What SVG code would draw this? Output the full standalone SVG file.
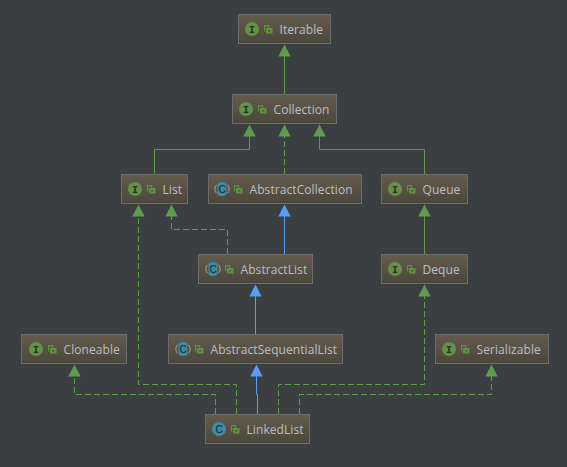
<svg xmlns="http://www.w3.org/2000/svg" width="567" height="467" viewBox="0 0 567 467">
<style>
.box{fill:url(#g);stroke:#6d6d6d;stroke-width:1}
.t{font-family:"Open Sans","Noto Sans","Liberation Sans",sans-serif;font-size:12px;fill:#bbbfc4;letter-spacing:.08px}
.b{font-family:"Liberation Mono",monospace;font-size:10px;font-weight:bold;fill:#26301f;text-anchor:middle}
.c{font-family:"Liberation Sans",sans-serif;font-size:10px;fill:#14303a;stroke:#14303a;stroke-width:.2;text-anchor:middle}
.ic{fill:#629246}
.cc{fill:#3f8ba3}
.par{fill:none;stroke:#8f9294;stroke-width:1.200}
.lock{fill:none;stroke:#5d9140;stroke-width:1.200}
.lb{fill:#5d9140}
.s{fill:none;stroke:#5f9b4c;stroke-width:1}
.d{fill:none;stroke:#5f9b4c;stroke-width:1;stroke-dasharray:6 3}
.bl{fill:none;stroke:#589df6;stroke-width:1}
.ah{fill:#5f9b4c}
.ahb{fill:#589df6}
</style>
<defs>
<linearGradient id="g" x1="0" y1="0" x2="0" y2="1"><stop offset="0" stop-color="#645b4d"/><stop offset="1" stop-color="#4b473b"/></linearGradient>
<g id="lk"><path class="lock" d="M0.600 6.500V0.600H4.600V3"/><rect class="lb" x="2" y="3" width="6.500" height="5.500"/><rect x="4.200" y="5.200" width="2" height="1.200" fill="#4f4a3e"/></g>
<g id="ii"><circle class="ic" cx="0" cy="0" r="7"/></g>
<g id="ac"><path class="cc" d="M-4.500 -5.400A7 7 0 0 1 4.500 -5.400V5.400A7 7 0 0 1 -4.500 5.400Z"/><path class="par" d="M-5.600 -4.200A7 7 0 0 0 -5.600 4.200M5.600 -4.200A7 7 0 0 1 5.600 4.200"/></g>
<polygon id="a" points="0,0 6.200,12 -6.200,12"/>
</defs>
<rect width="567" height="467" fill="#3c3f41"/>
<g id="connectors">
<path class="s" d="M284.500 56V94"/>
<path class="s" d="M154.500 174V149.500H249.500V136"/>
<path class="d" d="M284.500 174V136"/>
<path class="s" d="M424.500 174V149.500H319.500V136"/>
<path class="d" d="M227.500 254V229.500H171.500V216"/>
<path class="bl" d="M284.500 254V216"/>
<path class="s" d="M424.500 254V216"/>
<path class="bl" d="M255.500 334V296"/>
<path class="d" d="M236.500 414V384.500H138.500V216"/>
<path class="d" d="M215.500 414V394.500H74.500V376"/>
<path class="bl" d="M257.500 414V394.500H256.500V376"/>
<path class="d" d="M278.500 414V384.500H424.500V296"/>
<path class="d" d="M299.500 414V394.500H491.500V376"/>
<use href="#a" class="ah" x="284.500" y="44.500"/>
<use href="#a" class="ah" x="249.500" y="124.500"/>
<use href="#a" class="ah" x="284.500" y="124.500"/>
<use href="#a" class="ah" x="319.500" y="124.500"/>
<use href="#a" class="ah" x="138.500" y="204.500"/>
<use href="#a" class="ah" x="171.500" y="204.500"/>
<use href="#a" class="ahb" x="284.500" y="204.500"/>
<use href="#a" class="ah" x="424.500" y="204.500"/>
<use href="#a" class="ahb" x="255.500" y="284.500"/>
<use href="#a" class="ah" x="424.500" y="284.500"/>
<use href="#a" class="ah" x="74.500" y="364.500"/>
<use href="#a" class="ahb" x="256.500" y="364.500"/>
<use href="#a" class="ah" x="491.500" y="364.500"/>
</g>
<g id="Iterable"><rect class="box" x="238.500" y="14.500" width="92" height="29"/><use href="#ii" x="252" y="29"/><text class="b" x="252" y="32.500">I</text><use href="#lk" x="264" y="25"/><text class="t" x="279.500" y="33.500">Iterable</text></g>
<g id="Collection"><rect class="box" x="232.500" y="94.500" width="104" height="29"/><use href="#ii" x="246" y="109"/><text class="b" x="246" y="112.500">I</text><use href="#lk" x="258" y="105"/><text class="t" x="273.500" y="113.500">Collection</text></g>
<g id="List"><rect class="box" x="121.500" y="174.500" width="66" height="29"/><use href="#ii" x="135" y="189"/><text class="b" x="135" y="192.500">I</text><use href="#lk" x="147" y="185"/><text class="t" x="162.500" y="193.500">List</text></g>
<g id="AbstractCollection"><rect class="box" x="208.500" y="174.500" width="153" height="29"/><use href="#ac" x="222" y="189"/><text class="c" x="222" y="192.700">C</text><use href="#lk" x="234" y="185"/><text class="t" x="249.500" y="193.500">AbstractCollection</text></g>
<g id="Queue"><rect class="box" x="381.500" y="174.500" width="86" height="29"/><use href="#ii" x="395" y="189"/><text class="b" x="395" y="192.500">I</text><use href="#lk" x="407" y="185"/><text class="t" x="422.500" y="193.500">Queue</text></g>
<g id="AbstractList"><rect class="box" x="198.500" y="254.500" width="114" height="29"/><use href="#ac" x="213" y="269"/><text class="c" x="213" y="272.700">C</text><use href="#lk" x="225" y="265"/><text class="t" x="240.500" y="273.500">AbstractList</text></g>
<g id="Deque"><rect class="box" x="381.500" y="254.500" width="86" height="29"/><use href="#ii" x="395" y="269"/><text class="b" x="395" y="272.500">I</text><use href="#lk" x="407" y="265"/><text class="t" x="422.500" y="273.500">Deque</text></g>
<g id="Cloneable"><rect class="box" x="21.500" y="334.500" width="105" height="29"/><use href="#ii" x="36" y="349"/><text class="b" x="36" y="352.500">I</text><use href="#lk" x="48" y="345"/><text class="t" x="63.500" y="353.500">Cloneable</text></g>
<g id="AbstractSequentialList"><rect class="box" x="168.500" y="334.500" width="174" height="29"/><use href="#ac" x="183" y="349"/><text class="c" x="183" y="352.700">C</text><use href="#lk" x="195" y="345"/><text class="t" x="210.500" y="353.500">AbstractSequentialList</text></g>
<g id="Serializable"><rect class="box" x="435.500" y="334.500" width="113" height="29"/><use href="#ii" x="449" y="349"/><text class="b" x="449" y="352.500">I</text><use href="#lk" x="461" y="345"/><text class="t" x="476.500" y="353.500">Serializable</text></g>
<g id="LinkedList"><rect class="box" x="205.500" y="414.500" width="104" height="29"/><circle class="cc" cx="219" cy="429" r="7"/><text class="c" x="219" y="432.700">C</text><use href="#lk" x="231" y="425"/><text class="t" x="246.500" y="433.500">LinkedList</text></g>
</svg>
